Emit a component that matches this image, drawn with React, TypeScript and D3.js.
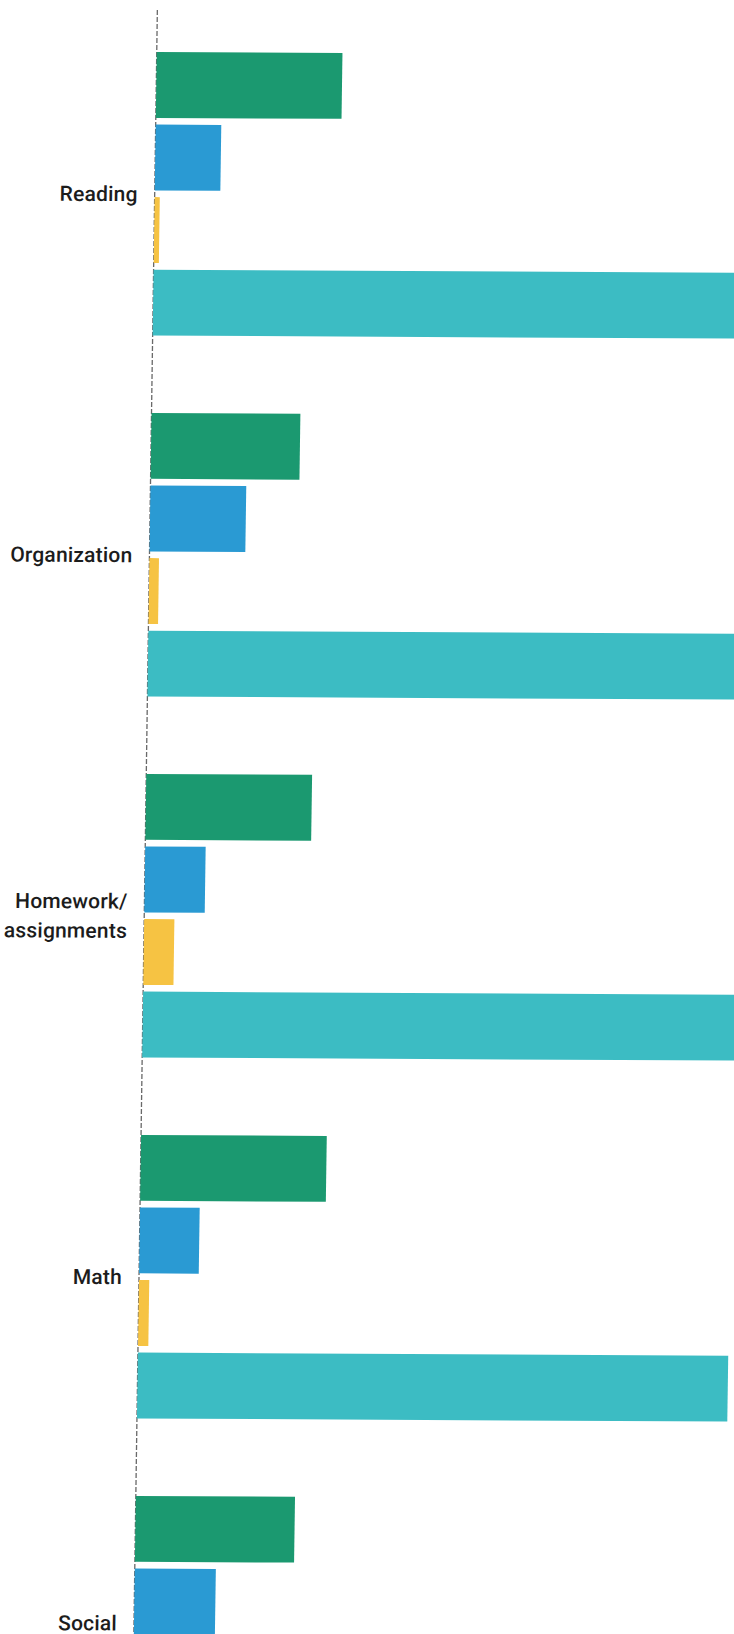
import React from "react";
import * as d3 from "d3";

const categories = ["Reading", "Organization", "Homework/assignments", "Math", "Social"];
const categoryLines: string[][] = [["Reading"], ["Organization"], ["Homework/", "assignments"], ["Math"], ["Social", ""]];
const seriesNames = ["s1", "s2", "s3", "s4"];
const seriesColors = ["#1b9970", "#2a9ad3", "#f6c343", "#3cbcc3"];
const s1Values = [25.2, 20.2, 22.5, 25.2, 21.6];
const s2Values = [8.9, 13.0, 8.2, 8.1, 11.0];
const s3Values: (number | null)[] = [0.7, 1.3, 4.1, 1.4, null];
const s4Values: (number | null)[] = [85, 85, 84, 80.1, null];
const seriesValues = [s1Values, s2Values, s3Values, s4Values];

const W = 734;
const H = 1634;
const AXIS_X = 157.5;

export default function App() {
  const y0 = d3.scaleBand<string>().domain(categories).range([52, 52 + 361 * (5 - 0.2145)]).paddingInner(0.2145).paddingOuter(0);
  const y1 = d3.scaleBand<string>().domain(seriesNames).range([0, y0.bandwidth()]).paddingInner(0.092).paddingOuter(0);
  const x = d3.scaleLinear().domain([0, 100]).range([0, 737]);

  return (
    <svg width={W} height={H} style={{ position: "absolute", left: 0, top: 0, background: "#fff" }}>
      <g transform={`translate(${AXIS_X},0) rotate(0.3) skewX(-0.53)`}>
        <line x1={0} x2={0} y1={10} y2={H + 40} stroke="#444" strokeWidth={1.3} strokeDasharray="5 2" opacity={0.8} />
        {categories.map((c, ci) => (
          <g key={c} transform={`translate(0,${y0(c)})`}>
            {seriesNames.map((s, si) => {
              const v = seriesValues[si][ci];
              if (v == null) return null;
              return (
                <rect key={s} x={0} y={y1(s)} width={x(v)} height={y1.bandwidth()} fill={seriesColors[si]} />
              );
            })}
            <text
              x={-17}
              y={y0.bandwidth() / 2}
              textAnchor="end"
              fontFamily="Roboto, sans-serif"
              fontSize={21}
              fontWeight={500}
              letterSpacing={0.2}
              fill="#1c1c1c"
            >
              {categoryLines[ci].map((line, li) => (
                <tspan key={li} x={-17} dy={li === 0 ? `${0.36 - (categoryLines[ci].length - 1) * 0.7}em` : "1.4em"}>
                  {line}
                </tspan>
              ))}
            </text>
          </g>
        ))}
      </g>
    </svg>
  );
}
